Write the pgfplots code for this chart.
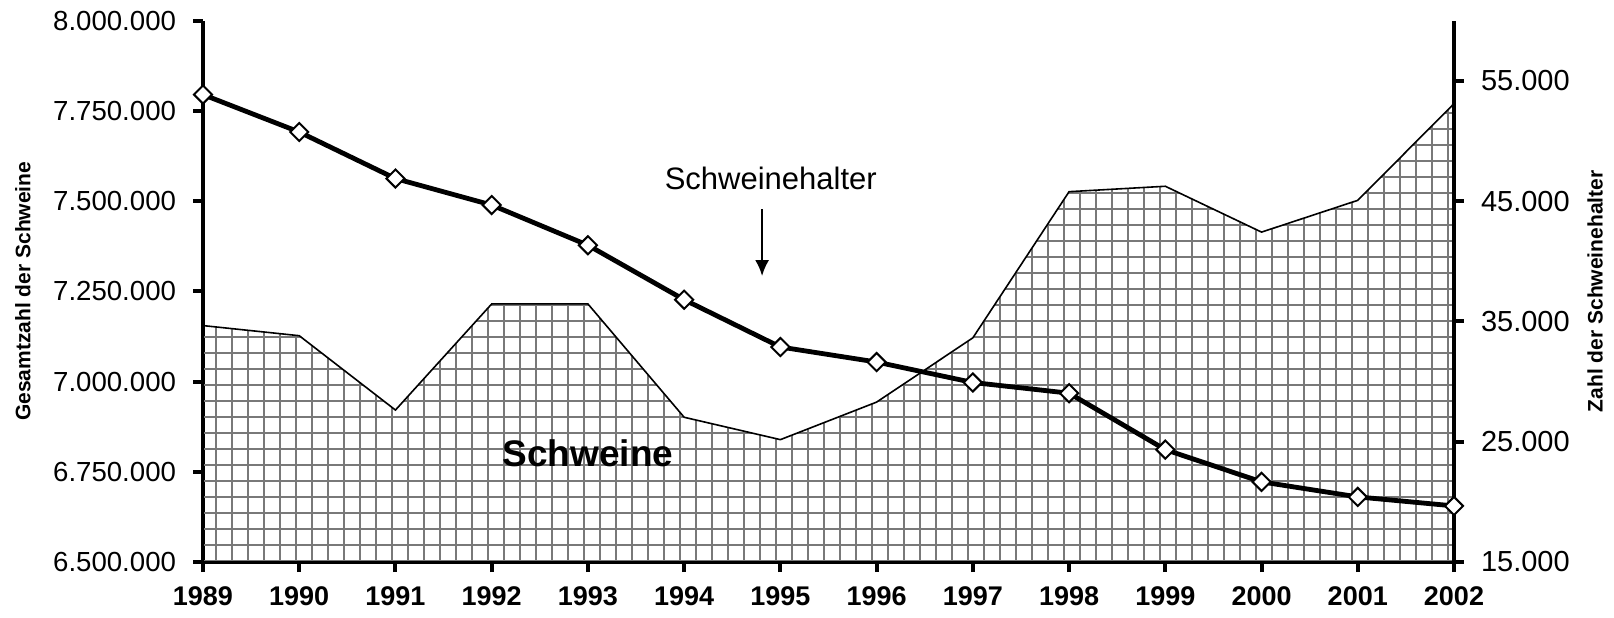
\documentclass[border=0pt]{standalone}
\usepackage{pgfplots}
\pgfplotsset{compat=1.18}
\usepackage{fontspec}
\setmainfont{Liberation Sans}
\usetikzlibrary{patterns,arrows.meta}

\pgfdeclarepatternformonly{biggrid}{\pgfqpoint{-1pt}{-1pt}}{\pgfqpoint{9pt}{9pt}}{\pgfqpoint{8pt}{8pt}}{%
  \pgfsetlinewidth{0.75pt}%
  \pgfpathmoveto{\pgfqpoint{0pt}{4pt}}\pgfpathlineto{\pgfqpoint{8pt}{4pt}}%
  \pgfpathmoveto{\pgfqpoint{4pt}{0pt}}\pgfpathlineto{\pgfqpoint{4pt}{8pt}}%
  \pgfusepath{stroke}%
}

\begin{document}
\begin{tikzpicture}
\begin{axis}[
  name=ax,
  scale only axis,
  width=625.5pt, height=270.7pt,
  xmin=1989, xmax=2002,
  ymin=6500000, ymax=8000000,
  axis x line*=bottom, axis y line*=left,
  axis line style={line width=2pt},
  tick align=outside,
  major tick length=5pt,
  tick style={line width=2pt, black},
  xtick={1989,1990,1991,1992,1993,1994,1995,1996,1997,1998,1999,2000,2001,2002},
  xticklabels={1989,1990,1991,1992,1993,1994,1995,1996,1997,1998,1999,2000,2001,2002},
  xticklabel style={font=\fontsize{13.5}{15}\selectfont\bfseries, yshift=-4pt},
  ytick={6500000,6750000,7000000,7250000,7500000,7750000,8000000},
  yticklabels={6.500.000,6.750.000,7.000.000,7.250.000,7.500.000,7.750.000,8.000.000},
  yticklabel style={font=\fontsize{13.8}{15}\selectfont, xshift=-5pt},
  scaled y ticks=false,
  ylabel={Gesamtzahl der Schweine},
  ylabel style={at={(axis description cs:-0.1439,0.5)}, anchor=center, font=\fontsize{10.5}{12}\selectfont\bfseries},
  clip=false,
]
\addplot[draw=black, line width=0.8pt, pattern=biggrid, pattern color=gray!95!black] coordinates {
  (1989,7155000) (1990,7127000) (1991,6921000) (1992,7215000) (1993,7215000)
  (1994,6901000) (1995,6839000) (1996,6943000) (1997,7121000) (1998,7526000)
  (1999,7541000) (2000,7414000) (2001,7502000) (2002,7770000)
} \closedcycle;
\node[font=\fontsize{18.5}{20}\selectfont\bfseries] at (axis cs:1993.0,6802000) {Schweine};
\node[font=\fontsize{15.5}{17}\selectfont] at (axis cs:1994.9,7564000) {Schweinehalter};
\draw[line width=1.2pt, -{Latex[length=8pt,width=7pt]}] (axis cs:1994.81,7478000) -- (axis cs:1994.81,7292000);
\end{axis}
\begin{axis}[
  scale only axis,
  width=625.5pt, height=270.7pt,
  xmin=1989, xmax=2002,
  ymin=15000, ymax=60000,
  axis x line=none, axis y line*=right,
  axis line style={line width=2pt},
  tick align=outside,
  major tick length=5pt,
  tick style={line width=2pt, black},
  ytick={15000,25000,35000,45000,55000},
  yticklabels={15.000,25.000,35.000,45.000,55.000},
  yticklabel style={font=\fontsize{14.5}{16}\selectfont, xshift=5pt},
  scaled y ticks=false,
  ylabel={Zahl der Schweinehalter},
  ylabel style={at={(axis description cs:1.1127,0.5)}, anchor=center, font=\fontsize{10.5}{12}\selectfont\bfseries},
  clip=false,
]
\addplot[black, line width=2.4pt, mark=square*, mark size=3.2pt,
  mark options={rotate=45, fill=white, draw=black, line width=1pt}] coordinates {
  (1989,53850) (1990,50740) (1991,46870) (1992,44670) (1993,41330)
  (1994,36800) (1995,32870) (1996,31620) (1997,29920) (1998,29030)
  (1999,24340) (2000,21660) (2001,20410) (2002,19660)
};
\end{axis}
\pgfresetboundingbox
\path[use as bounding box] ([xshift=-101.5pt,yshift=-27.5pt]ax.south west) rectangle ([xshift=80pt,yshift=10.3pt]ax.north east);
\end{tikzpicture}
\end{document}
